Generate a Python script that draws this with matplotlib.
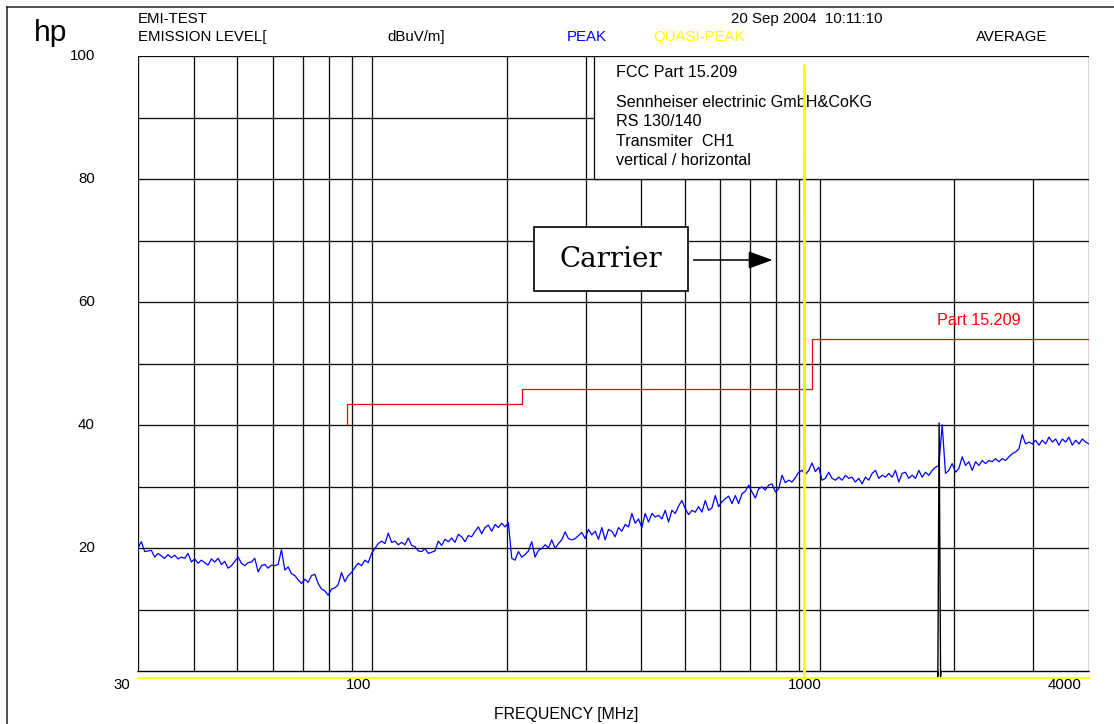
import numpy as np
import matplotlib
matplotlib.use("Agg")
import matplotlib.pyplot as plt
from matplotlib.patches import Rectangle

plt.rcParams["font.family"] = ["Liberation Sans", "DejaVu Sans"]

# ---------------------------------------------------------------------
# Measurement data
# ---------------------------------------------------------------------
sweep_start = 30.0      # MHz
sweep_stop = 4000.0     # MHz

# Peak detector trace (dBuV/m), one value per sweep point
peak_level = [
    20.1, 21.1, 19.5, 19.6, 19.7, 18.6, 19.2, 18.8, 18.4, 19.0,
    18.5, 18.9, 18.3, 18.6, 18.4, 19.2, 17.8, 18.3, 17.6, 18.1,
    17.7, 17.3, 18.3, 17.8, 18.4, 17.4, 17.9, 16.8, 17.2, 17.9,
    18.6, 17.6, 17.2, 17.7, 17.8, 18.4, 16.2, 17.2, 17.4, 16.8,
    17.3, 17.2, 17.4, 19.8, 16.5, 17.0, 15.9, 15.6, 14.9, 14.3,
    15.0, 14.5, 15.6, 15.8, 14.3, 13.4, 13.1, 12.4, 13.4, 13.6,
    14.1, 16.1, 14.6, 15.6, 16.1, 16.9, 17.6, 17.2, 18.1, 17.7,
    19.2, 20.0, 20.8, 21.2, 20.8, 22.5, 21.0, 21.2, 20.6, 21.0,
    20.6, 21.7, 20.5, 20.3, 19.6, 19.5, 20.0, 19.2, 19.4, 19.6,
    21.2, 20.5, 21.5, 21.1, 21.7, 21.0, 22.3,
    21.9, 21.1, 22.1, 21.9, 22.8, 23.5, 22.4, 23.4, 23.8, 22.8,
    23.9, 23.4, 24.1, 23.5, 24.2, 18.4, 18.1, 19.5, 18.6, 19.0,
    19.6, 21.1, 18.6, 19.7, 20.0, 20.6, 20.1, 21.4, 20.0, 20.8,
    21.4, 22.7, 21.6, 21.4, 21.6, 22.1, 22.6, 21.6, 23.1, 22.2,
    22.8, 21.5, 23.4, 21.4, 23.1, 22.8, 21.9, 23.4, 22.8, 23.9,
    23.5, 25.7, 24.1, 24.8, 23.4, 25.7, 24.3, 25.7, 25.1, 25.4,
    24.8, 26.2, 24.3, 26.2, 25.7, 26.9, 27.8, 26.5, 25.5, 26.2,
    25.9, 26.8, 25.9, 27.8, 26.2, 26.6, 28.6, 26.8, 27.6, 28.1,
    28.5, 27.3, 28.6, 27.3, 28.9, 29.3, 30.3, 29.2, 28.2, 29.7,
    30.0, 29.5, 30.3, 30.5, 29.2, 29.7,
    31.9, 30.7, 31.1, 30.8, 31.5, 32.4, 32.7, 32.0, 32.7, 33.9,
    32.5, 33.2, 31.1, 31.4, 32.4, 31.4, 31.1, 31.6, 31.1, 31.9,
    31.4, 31.6, 30.8, 31.4, 30.5, 31.6, 31.1, 32.2, 32.7, 31.4,
    31.9, 31.6, 32.2, 31.6, 32.7, 30.8, 32.2, 32.4, 31.4, 31.9,
    31.4, 32.7, 31.6, 32.4, 31.9, 32.7, 33.2, 33.5, 40.1, 32.2,
    32.7, 33.8, 32.4, 33.0, 34.9, 33.5, 34.1, 32.7, 34.1, 33.5,
    34.3, 33.8, 34.3, 34.1, 34.6, 34.1, 34.6, 34.3, 34.9, 35.4,
    35.7, 36.2, 38.5, 37.0, 37.3, 37.0, 37.6, 36.8, 37.6, 37.0,
    38.1, 37.3, 37.8, 36.8, 37.8, 37.3, 38.1, 36.8, 37.6, 37.0,
    37.8, 37.3, 37.0,
]

# Peak detector on the carrier itself
carrier_freq = [922, 926, 930]
carrier_peak = [32.4, 98.4, 32.4]

# Quasi-peak trace: only the carrier was measured
qp_freq = [30, 922, 922, 929, 929, 4000]
qp_level = [-1.0, -1.0, 98.6, 98.6, -1.0, -1.0]

# Average trace: one spurious line near 1.85 GHz
avg_freq = [30, 1836, 1838, 1850, 1864, 1866, 4000]
avg_level = [0.0, 0.0, -0.8, 40.4, -0.8, 0.0, 0.0]

# FCC Part 15.209 radiated emission limit
limit_freq = [88, 88, 216, 216, 960, 960, 4000]
limit_level = [40.0, 43.5, 43.5, 46.0, 46.0, 54.0, 54.0]

grid_freq = [40, 50, 60, 70, 80, 90, 100, 200, 300, 400, 500,
             600, 700, 800, 900, 1000, 2000, 3000]
grid_level = [10, 20, 30, 40, 50, 60, 70, 80, 90]

y_ticks = [20, 40, 60, 80, 100]
x_ticks = [30, 100, 1000, 4000]
x_tick_shift = [-8, -1, 2, -8]

info_lines = ["Sennheiser electrinic GmbH&CoKG", "RS 130/140",
              "Transmiter  CH1", "vertical / horizontal"]

# ---------------------------------------------------------------------
# Figure layout (pixel based, 1114 x 724)
# ---------------------------------------------------------------------
W, H = 1114, 724
fig = plt.figure(figsize=(W / 100, H / 100), dpi=100)
fig.patch.set_facecolor("white")


def fx(x):
    return x / W


def fy(y):
    return 1 - y / H


ax_l, ax_r, ax_t, ax_b = 138, 1089, 56.4, 671.5
ax = fig.add_axes([fx(ax_l), fy(ax_b), (ax_r - ax_l) / W, (ax_b - ax_t) / H])
ax.set_xscale("log")
ax.set_xlim(sweep_start, sweep_stop)
ax.set_ylim(0, 100)
ax.axis("off")

line_kw = dict(color="#111111", lw=0.95, zorder=1)

# grid and frame
for f in grid_freq:
    ax.plot([f, f], [0, 100], **line_kw)
for v in grid_level:
    ax.plot([sweep_start, sweep_stop], [v, v], **line_kw)
for f in (sweep_start, sweep_stop):
    ax.plot([f, f], [0, 100], **line_kw)
for v in (0, 100):
    ax.plot([sweep_start, sweep_stop], [v, v], **line_kw)

# info box in the upper right corner
ax.add_patch(Rectangle((312.6, 80), sweep_stop - 312.6, 20,
                       facecolor="white", edgecolor="#111111",
                       lw=0.95, zorder=2))
ax.text(351, 97.4, "FCC Part 15.209", fontsize=11.6, va="center", zorder=3)
for i, s in enumerate(info_lines):
    ax.text(351, 92.5 - i * 3.13, s, fontsize=11.6, va="center", zorder=3)

# traces
freq = np.geomspace(sweep_start, sweep_stop, len(peak_level))
ax.plot(freq, peak_level, color="#0000ff", lw=0.9, zorder=4)
ax.plot(carrier_freq, carrier_peak, color="#0000ff", lw=0.9, zorder=4)
ax.plot(avg_freq, avg_level, color="black", lw=1.0, zorder=4, clip_on=False)
ax.plot(qp_freq, qp_level, color="#ffff00", lw=1.3, zorder=5, clip_on=False)
ax.plot(limit_freq, limit_level, color="#ff0000", lw=0.9, zorder=4)
ax.text(1826, 57.0, "Part 15.209", color="#ff0000", fontsize=11.6,
        va="center", zorder=4)

# carrier marker
ax.add_patch(Rectangle((230.7, 61.9), 507 - 230.7, 72.2 - 61.9,
                       facecolor="white", edgecolor="black", lw=1.2, zorder=6))
ax.text(341, 66.9, "Carrier", family="DejaVu Serif", fontsize=20,
        ha="center", va="center", zorder=7)
ax.annotate("", xy=(785, 66.9), xytext=(523, 66.9),
            arrowprops=dict(arrowstyle="-|>,head_length=1.5,head_width=0.55",
                            color="black", lw=1.1, shrinkA=0, shrinkB=0),
            zorder=7)

# axis labels
for v in y_ticks:
    ax.annotate(str(v), xy=(0, v), xycoords=("axes fraction", "data"),
                xytext=(-43, 0), textcoords="offset pixels",
                ha="right", va="center", fontsize=10.8)
for f, dx in zip(x_ticks, x_tick_shift):
    ax.annotate(str(f), xy=(f, 0), xycoords=("data", "axes fraction"),
                xytext=(dx, -13.5), textcoords="offset pixels",
                ha="right", va="center", fontsize=10.8)
fig.text(fx(566), fy(715), "FREQUENCY [MHz]", fontsize=11.4,
         ha="center", va="center")

# header
fig.text(fx(34), fy(33), "hp", fontsize=21.5, va="center")
fig.text(fx(138), fy(19), "EMI-TEST", fontsize=10.8, va="center")
fig.text(fx(138), fy(37), "EMISSION LEVEL[", fontsize=10.8, va="center")
fig.text(fx(387), fy(37), "dBuV/m]", fontsize=10.8, va="center")
fig.text(fx(567), fy(37), "PEAK", color="#0000ff", fontsize=10.8, va="center")
fig.text(fx(653), fy(37), "QUASI-PEAK", color="#ffff00", fontsize=10.8,
         va="center")
fig.text(fx(976), fy(37), "AVERAGE", fontsize=10.8, va="center")
fig.text(fx(731), fy(19), "20 Sep 2004  10:11:10", fontsize=10.8,
         va="center")

# page border
fig.add_artist(plt.Line2D([fx(7), fx(7)], [fy(7), 0], color="#222222", lw=1.1))
fig.add_artist(plt.Line2D([fx(7), 1], [fy(7), fy(7)], color="#222222", lw=1.1))

fig.savefig("out.png", dpi=100)
